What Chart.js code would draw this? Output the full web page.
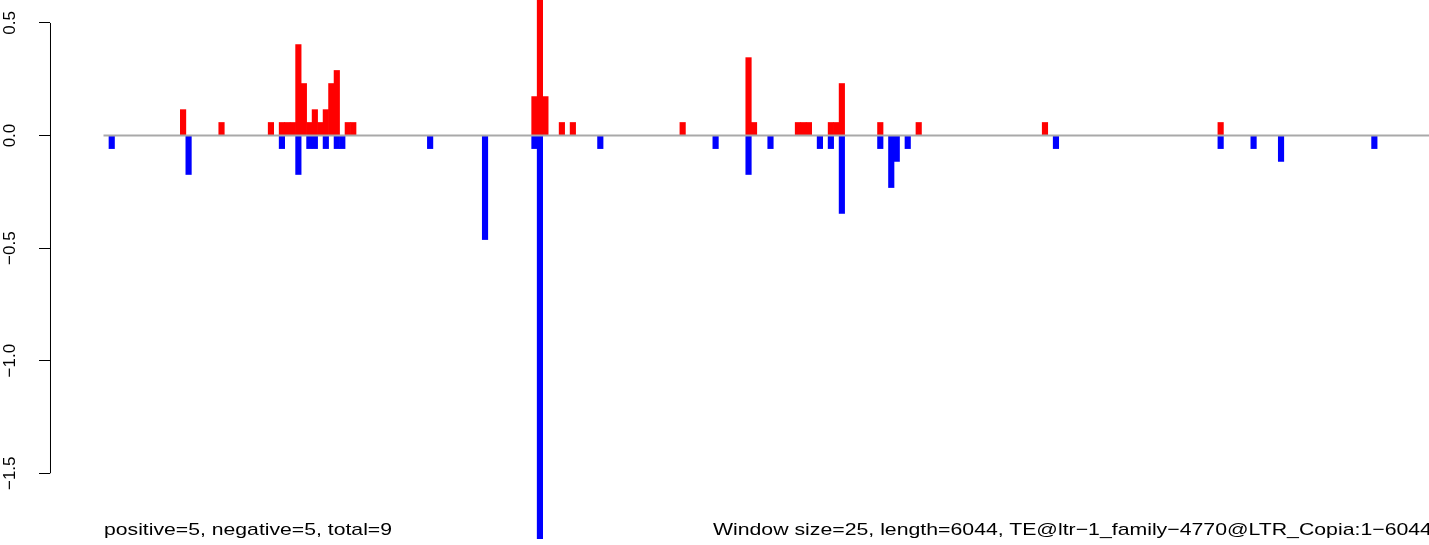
<!DOCTYPE html>
<html>
<head>
<meta charset="utf-8">
<script src="https://cdn.jsdelivr.net/npm/chart.js@4.4.0/dist/chart.umd.min.js"></script>
<style>
html, body { margin: 0; padding: 0; background: #fff; overflow: hidden; width: 1429px; height: 545px; }
#contenedor { position: relative; width: 1436px; height: 545px; }
#grafico { display: block; }
.nota { position: absolute; top: 521px; font-family: "Liberation Sans", Arial, sans-serif; font-size: 17px; line-height: 17px; white-space: nowrap; color: #000; }
#notaIzq { left: 104px; transform-origin: left center; }
#notaDer { right: 4px; transform-origin: right center; }
</style>
</head>
<body>
<div id="contenedor">
  <canvas id="grafico" width="1436" height="545"></canvas>
  <div class="nota" id="notaIzq">positive=5, negative=5, total=9</div>
  <div class="nota" id="notaDer">Window size=25, length=6044, TE@ltr−1_family−4770@LTR_Copia:1−6044</div>
</div>
<script>
// ventanas de 25 pb, 6044 pb -> 242 ventanas
let totalVentanas = 242;

// barras rojas (positivas)
let ventanasPos = [14, 21, 30, 32, 33, 34, 35, 36, 37, 38, 39, 40, 41, 42, 44, 45, 78, 79, 80, 83, 85, 105, 117, 118, 126, 127, 128, 132, 133, 134, 141, 148, 171, 203];
let valoresPos = [0.115, 0.058, 0.058, 0.058, 0.058, 0.058, 0.404, 0.231, 0.058, 0.115, 0.058, 0.115, 0.231, 0.289, 0.058, 0.058, 0.173, 0.65, 0.173, 0.058, 0.058, 0.058, 0.346, 0.058, 0.058, 0.058, 0.058, 0.058, 0.058, 0.231, 0.058, 0.058, 0.058, 0.058];

// barras azules (negativas)
let ventanasNeg = [1, 15, 32, 35, 37, 38, 40, 42, 43, 59, 69, 78, 79, 90, 111, 117, 121, 130, 132, 134, 141, 143, 144, 146, 173, 203, 209, 214, 231];
let valoresNeg = [-0.058, -0.173, -0.058, -0.173, -0.058, -0.058, -0.058, -0.058, -0.058, -0.058, -0.462, -0.058, -1.79, -0.058, -0.058, -0.173, -0.058, -0.058, -0.058, -0.346, -0.058, -0.231, -0.115, -0.058, -0.058, -0.058, -0.058, -0.115, -0.058];

let ticksY = [-1.5, -1.0, -0.5, 0.0, 0.5];
let yMin = -1.792;
let yMax = 0.602;

// el eje y queda separado de la primera ventana
let xMin = -9.745;

let puntos = (ventanas, valores) => ventanas.map((v, i) => ({ x: v + 0.5, y: valores[i] }));

let formatoTick = (v) => (v < 0 ? "\u2212" : "") + Math.abs(v).toFixed(1);

const config = {
    type: "bar",
    data: {
        datasets: [
            {
                type: "line",
                data: [{ x: 0, y: 0 }, { x: totalVentanas, y: 0 }],
                borderColor: "#a9a9a9",
                borderWidth: 2,
                pointRadius: 0,
                order: 0
            },
            {
                type: "line",
                data: [{ x: xMin + 0.09, y: ticksY[0] }, { x: xMin + 0.09, y: ticksY[ticksY.length - 1] }],
                borderColor: "#000",
                borderWidth: 1,
                pointRadius: 0,
                clip: false,
                order: 0
            },
            {
                data: puntos(ventanasPos, valoresPos),
                backgroundColor: "#ff0000",
                borderWidth: 0,
                barPercentage: 1,
                categoryPercentage: 1,
                grouped: false,
                order: 2
            },
            {
                data: puntos(ventanasNeg, valoresNeg),
                backgroundColor: "#0000ff",
                borderWidth: 0,
                barPercentage: 1,
                categoryPercentage: 1,
                grouped: false,
                order: 2
            }
        ]
    },
    options: {
        responsive: false,
        animation: false,
        layout: { padding: { left: 0, right: 4, top: 0, bottom: 6 } },
        plugins: { legend: { display: false }, tooltip: { enabled: false } },
        scales: {
            x: {
                type: "linear",
                min: xMin,
                max: totalVentanas,
                offset: false,
                display: false
            },
            y: {
                min: yMin,
                max: yMax,
                afterFit: (escala) => {
                    escala.width = 50;
                    escala.paddingTop = 0;
                    escala.paddingBottom = 0;
                },
                afterBuildTicks: (escala) => { escala.ticks = ticksY.map(v => ({ value: v })); },
                border: { display: false },
                grid: {
                    drawOnChartArea: false,
                    drawTicks: true,
                    tickLength: 11,
                    tickColor: "#000",
                    tickWidth: 1
                },
                ticks: {
                    minRotation: 90,
                    maxRotation: 90,
                    crossAlign: "center",
                    padding: 12,
                    color: "#000",
                    font: { family: "Liberation Sans", size: 17 },
                    callback: formatoTick
                }
            }
        }
    }
};

const grafico = new Chart(document.getElementById("grafico"), config);

// ajustar ancho de los textos de abajo
let ajustarNota = (id, ancho) => {
    let nota = document.getElementById(id);
    let actual = nota.getBoundingClientRect().width;
    nota.style.transform = `scaleX(${ancho / actual})`;
};
ajustarNota("notaIzq", 288);
ajustarNota("notaDer", 719);
</script>
</body>
</html>
